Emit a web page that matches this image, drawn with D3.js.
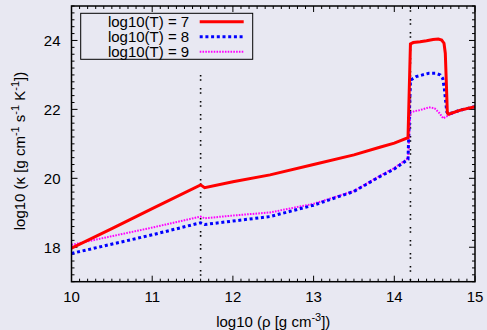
<!DOCTYPE html>
<html>
<head>
<meta charset="utf-8">
<script src="https://cdn.jsdelivr.net/npm/d3@7"></script>
<style>
  body { margin: 0; background: #e8e8f2; }
  svg { display: block; font-family: "Liberation Sans", Arial, sans-serif; }
</style>
</head>
<body>
<svg id="chart"></svg>
<script>
// log10(rho) and log10(kappa) for each temperature
const rhoT7 = [10, 10.5, 11, 11.6, 11.65, 12, 12.46, 13, 13.5, 13.82, 14.0, 14.17, 14.2, 14.235, 14.32, 14.4, 14.48, 14.545, 14.587, 14.616, 14.632, 14.645, 14.657, 14.67, 14.82, 15];
const kapT7 = [17.97, 18.54, 19.12, 19.81, 19.73, 19.9, 20.1, 20.4, 20.68, 20.9, 21.02, 21.18, 23.9, 23.94, 23.96, 23.99, 24.03, 24.04, 24.01, 23.92, 23.63, 22.76, 21.9, 21.86, 21.98, 22.08];

const rhoT8 = [10, 11, 11.6, 11.65, 12, 12.46, 13, 13.5, 13.82, 14.0, 14.17, 14.2, 14.27, 14.35, 14.43, 14.51, 14.57, 14.6, 14.62, 14.635, 14.65, 14.67, 14.82, 15];
const kapT8 = [17.82, 18.36, 18.71, 18.66, 18.76, 18.89, 19.22, 19.62, 20.05, 20.27, 20.55, 22.85, 22.95, 23.0, 23.05, 23.05, 23.0, 22.9, 22.61, 22.27, 21.93, 21.86, 21.98, 22.08];

const rhoT9 = [10, 11, 11.6, 11.65, 12, 12.46, 13, 13.5, 13.82, 14.0, 14.17, 14.2, 14.25, 14.32, 14.43, 14.5, 14.56, 14.607, 14.65, 14.77, 15];
const kapT9 = [18.07, 18.57, 18.89, 18.84, 18.92, 19.01, 19.26, 19.63, 20.07, 20.3, 20.58, 21.9, 21.95, 21.98, 22.06, 22.03, 21.89, 21.74, 21.8, 21.93, 22.08];

const legendLabels = ["log10(T) = 7", "log10(T) = 8", "log10(T) = 9"];
const xTicks = [10, 11, 12, 13, 14, 15];
const yTicks = [18, 20, 22, 24];
const markerLines = [{ x: 11.6, y0: 17, y1: 23 }, { x: 14.2, y0: 17, y1: 25 }];

const series = [
  { label: legendLabels[0], rho: rhoT7, kap: kapT7, color: "#ff0000", w: 3, dash: null },
  { label: legendLabels[1], rho: rhoT8, kap: kapT8, color: "#0000ff", w: 3, dash: "3,2.7" },
  { label: legendLabels[2], rho: rhoT9, kap: kapT9, color: "#ff00ff", w: 2, dash: "1.6,1.2" }
];

const W = 487, H = 330;
const margin = { top: 6, right: 12, bottom: 48.3, left: 71.5 };
const width = W - margin.left - margin.right,
      height = H - margin.top - margin.bottom;

const svg = d3.select("#chart").attr("width", W).attr("height", H);

const x = d3.scaleLinear().domain([10, 15]).range([0, width]);
const y = d3.scaleLinear().domain([17, 25]).range([height, 0]);

const g = svg.append("g").attr("transform", `translate(${margin.left},${margin.top})`);

g.append("clipPath").attr("id", "clip")
  .append("rect").attr("width", width).attr("height", height);

// ticks on all four sides, pointing inward
const xMinor = d3.range(10, 15.001, 0.1);
const yMinor = d3.range(17, 25.001, 0.2);
const tickG = g.append("g").attr("stroke", "#000").attr("stroke-width", 1);
xMinor.forEach(v => {
  const major = Math.abs(v - Math.round(v)) < 1e-6;
  const len = major ? 6 : 3;
  tickG.append("line").attr("x1", x(v)).attr("x2", x(v)).attr("y1", height).attr("y2", height - len);
  tickG.append("line").attr("x1", x(v)).attr("x2", x(v)).attr("y1", 0).attr("y2", len);
});
yMinor.forEach(v => {
  const major = Math.abs(v / 2 - Math.round(v / 2)) < 1e-6;
  const len = major ? 6 : 3;
  tickG.append("line").attr("y1", y(v)).attr("y2", y(v)).attr("x1", 0).attr("x2", len);
  tickG.append("line").attr("y1", y(v)).attr("y2", y(v)).attr("x1", width).attr("x2", width - len);
});

// tick labels
g.selectAll(".xlab").data(xTicks).join("text")
  .attr("class", "xlab")
  .attr("x", d => x(d)).attr("y", height + 20.5)
  .attr("text-anchor", "middle").attr("font-size", 15)
  .text(d => d);
g.selectAll(".ylab").data(yTicks).join("text")
  .attr("class", "ylab")
  .attr("x", -11).attr("y", d => y(d) + 5.3)
  .attr("text-anchor", "end").attr("font-size", 15)
  .text(d => d);

// vertical dotted markers
g.selectAll(".marker").data(markerLines).join("line")
  .attr("class", "marker")
  .attr("x1", d => x(d.x)).attr("x2", d => x(d.x))
  .attr("y1", d => y(d.y1)).attr("y2", d => y(d.y0))
  .attr("stroke", "#000").attr("stroke-width", 1.6)
  .attr("stroke-dasharray", "1.6,2.6,1.6,7.2");

// curves
const line = d3.line().x(d => x(d[0])).y(d => y(d[1]));
const plot = g.append("g").attr("clip-path", "url(#clip)");
series.slice().reverse().forEach(s => {
  plot.append("path")
    .datum(d3.zip(s.rho, s.kap))
    .attr("d", line)
    .attr("fill", "none")
    .attr("stroke", s.color)
    .attr("stroke-width", s.w)
    .attr("stroke-dasharray", s.dash);
});

// frame
g.append("rect").attr("width", width).attr("height", height)
  .attr("fill", "none").attr("stroke", "#000").attr("stroke-width", 1.5);

// legend
const leg = g.append("g").attr("transform", "translate(9.2,7.3)");
leg.append("rect").attr("width", 172).attr("height", 46)
  .attr("fill", "none").attr("stroke", "#000").attr("stroke-width", 1);
series.forEach((s, i) => {
  const yy = 8.5 + i * 15;
  leg.append("text").attr("x", 108.5).attr("y", yy + 5.3)
    .attr("text-anchor", "end").attr("font-size", 15).text(s.label);
  leg.append("line").attr("x1", 119).attr("x2", 163).attr("y1", yy).attr("y2", yy)
    .attr("stroke", s.color).attr("stroke-width", s.w)
    .attr("stroke-dasharray", s.dash);
});

// axis titles
svg.append("text")
  .attr("x", margin.left + width / 2).attr("y", 327)
  .attr("text-anchor", "middle").attr("font-size", 15)
  .call(t => {
    t.append("tspan").text("log10 (\u03c1 [g cm");
    t.append("tspan").attr("dy", -6).attr("font-size", 11).text("-3");
    t.append("tspan").attr("dy", 6).text("])");
  });

svg.append("text")
  .attr("transform", "translate(25,151) rotate(-90)")
  .attr("text-anchor", "middle").attr("font-size", 15)
  .call(t => {
    t.append("tspan").text("log10 (\u03ba [g cm");
    t.append("tspan").attr("dy", -6).attr("font-size", 11).text("-1");
    t.append("tspan").attr("dy", 6).text(" s");
    t.append("tspan").attr("dy", -6).attr("font-size", 11).text("-1");
    t.append("tspan").attr("dy", 6).text(" K");
    t.append("tspan").attr("dy", -6).attr("font-size", 11).text("-1");
    t.append("tspan").attr("dy", 6).text("])");
  });
</script>
</body>
</html>
